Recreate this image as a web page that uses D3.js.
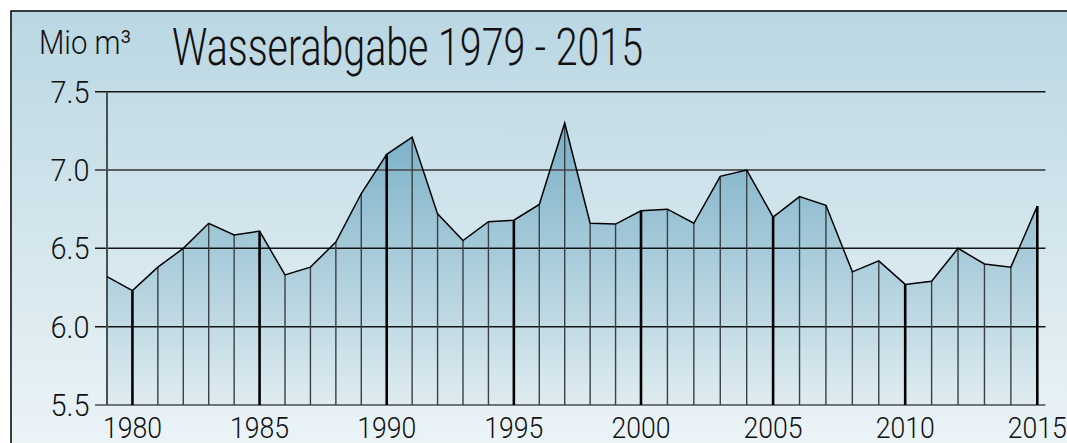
<!DOCTYPE html>
<html>
<head>
<meta charset="utf-8">
<script src="https://cdn.jsdelivr.net/npm/d3@7"></script>
<style>
  html, body { margin: 0; padding: 0; background: #fff; }
  svg { display: block; }
  text { font-family: Roboto, "Liberation Sans", Arial, sans-serif; font-weight: 300; fill: #111; }
</style>
</head>
<body>
<svg id="chart" width="1067" height="443"></svg>
<script>
// ---- data ----
const years = d3.range(1979, 2016);
const values = [
  6.32, 6.23, 6.38, 6.50, 6.66, 6.585, 6.61, 6.33, 6.38, 6.54,
  6.85, 7.10, 7.21, 6.72, 6.55, 6.67, 6.68, 6.78, 7.30, 6.66,
  6.655, 6.74, 6.75, 6.66, 6.96, 7.00, 6.70, 6.83, 6.775, 6.35,
  6.42, 6.27, 6.29, 6.50, 6.40, 6.38, 6.77
];
const yTicks = [5.5, 6.0, 6.5, 7.0, 7.5];
const xTickYears = [1980, 1985, 1990, 1995, 2000, 2005, 2010, 2015];
const title = "Wasserabgabe 1979 - 2015";
const unitLabel = "Mio m³";

const data = years.map((y, i) => ({ year: y, value: values[i] }));

const svg = d3.select("#chart");
const defs = svg.append("defs");

// background gradient
const bg = defs.append("linearGradient").attr("id", "bgGrad")
  .attr("x1", 0).attr("y1", 0).attr("x2", 0).attr("y2", 1);
bg.append("stop").attr("offset", "0%").attr("stop-color", "#bad7e3");
bg.append("stop").attr("offset", "100%").attr("stop-color", "#f3f8fa");

// scales
const x = d3.scaleLinear().domain([1979, 2000, 2015]).range([107, 641, 1037.3]);
const y = d3.scaleLinear().domain([5.5, 7.5]).range([405, 91.7]);
const gridRight = 1045.5;

// area gradient (user space along y)
const ag = defs.append("linearGradient").attr("id", "areaGrad")
  .attr("gradientUnits", "userSpaceOnUse")
  .attr("x1", 0).attr("x2", 0).attr("y1", y(7.5)).attr("y2", y(5.5));
ag.append("stop").attr("offset", "0%").attr("stop-color", "#6ca8c1");
ag.append("stop").attr("offset", "100%").attr("stop-color", "#dfecf1");

// frame
svg.append("rect")
  .attr("x", 11).attr("y", 11).attr("width", 1120).attr("height", 500)
  .attr("fill", "url(#bgGrad)").attr("stroke", "#111").attr("stroke-width", 1.6);

// area
const area = d3.area().x(d => x(d.year)).y0(y(5.5)).y1(d => y(d.value));
svg.append("path").datum(data).attr("d", area).attr("fill", "url(#areaGrad)");

// horizontal grid lines
svg.append("g").selectAll("line").data(yTicks).join("line")
  .attr("x1", x(1979) - 12).attr("x2", gridRight)
  .attr("y1", d => y(d)).attr("y2", d => y(d))
  .attr("stroke", d => (d === 7.0 ? "#5a5f63" : (d === 5.5 ? "#4a4f53" : "#151515")))
  .attr("stroke-width", d => (d === 7.0 ? 2 : 1.5));

// y axis line
svg.append("line")
  .attr("x1", x(1979)).attr("x2", x(1979))
  .attr("y1", y(7.5)).attr("y2", y(5.5))
  .attr("stroke", "#4a4f53").attr("stroke-width", 2);

// vertical lines per year
svg.append("g").selectAll("line").data(data.slice(1)).join("line")
  .attr("x1", d => x(d.year)).attr("x2", d => x(d.year))
  .attr("y1", y(5.5)).attr("y2", d => y(d.value))
  .attr("stroke", d => (d.year % 5 === 0 ? "#000" : "#3a3f43"))
  .attr("stroke-width", d => (d.year % 5 === 0 ? 2.6 : 1.4));

// data line
const line = d3.line().x(d => x(d.year)).y(d => y(d.value));
svg.append("path").datum(data).attr("d", line)
  .attr("fill", "none").attr("stroke", "#000").attr("stroke-width", 1.5)
  .attr("stroke-linejoin", "miter");

// y labels (right edge at 89.5)
svg.append("g").selectAll("text").data(yTicks).join("text")
  .attr("x", 89.5 - 39).attr("y", d => y(d) + 11)
  .attr("font-size", 32)
  .attr("textLength", 39).attr("lengthAdjust", "spacingAndGlyphs")
  .text(d => d.toFixed(1));

// x labels (centred on year)
svg.append("g").selectAll("text").data(xTickYears).join("text")
  .attr("x", d => x(d) - 29.5).attr("y", 438)
  .attr("font-size", 30)
  .attr("textLength", 59).attr("lengthAdjust", "spacingAndGlyphs")
  .text(d => d);

// unit label
svg.append("text").attr("x", 39).attr("y", 54.3)
  .attr("font-size", 34)
  .attr("textLength", 92).attr("lengthAdjust", "spacingAndGlyphs")
  .text(unitLabel);

// title
svg.append("text").attr("x", 172).attr("y", 65)
  .attr("font-size", 51)
  .attr("textLength", 471).attr("lengthAdjust", "spacingAndGlyphs")
  .text(title);
</script>
</body>
</html>
